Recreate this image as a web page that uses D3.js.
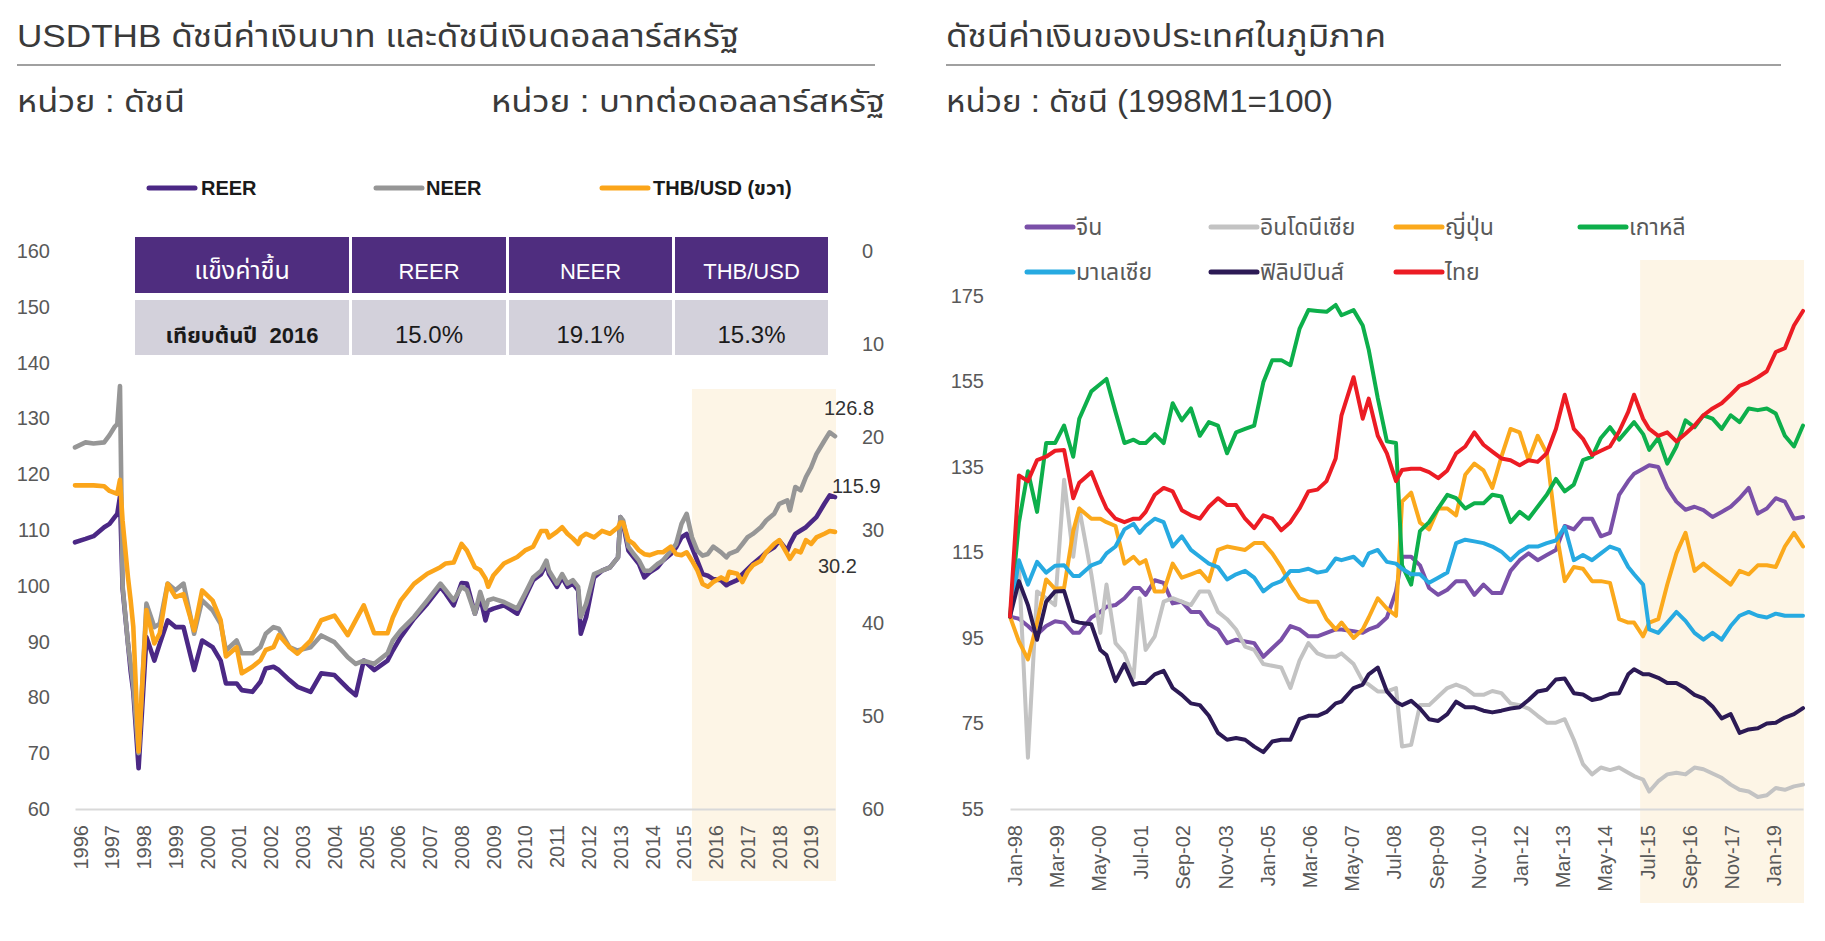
<!DOCTYPE html>
<html><head><meta charset="utf-8">
<script src="https://cdn.jsdelivr.net/npm/d3@7"></script>
<style>
html,body{margin:0;padding:0;background:#fff;}
svg{display:block;font-family:"Liberation Sans","Noto Sans Thai","Noto Sans Thai UI","Noto Sans",Arial,sans-serif;}
</style></head><body>
<svg id="chart" width="1825" height="941"></svg>
<script>
// ---------------- LEFT CHART DATA ----------------
const leftMonths = ["1996-01","1996-05","1996-08","1996-12","1997-02","1997-04","1997-05","1997-06","1997-07","1997-09",
"1997-10","1997-11","1998-01","1998-04","1998-07","1998-09","1998-12","1999-03","1999-06","1999-10",
"2000-01","2000-05","2000-08","2000-10","2001-02","2001-04","2001-08","2001-11","2002-01","2002-04",
"2002-06","2002-10","2003-01","2003-06","2003-10","2004-03","2004-08","2004-11","2005-02","2005-06",
"2005-11","2006-01","2006-04","2006-09","2007-02","2007-07","2007-09","2007-12","2008-03","2008-05",
"2008-08","2008-10","2008-12","2009-01","2009-03","2009-07","2009-12","2010-03","2010-06","2010-09",
"2010-11","2010-12","2011-03","2011-05","2011-07","2011-09","2011-11","2011-12","2012-02","2012-05",
"2012-08","2012-11","2013-02","2013-03","2013-04","2013-06","2013-08","2013-10","2013-12","2014-02",
"2014-05","2014-07","2014-10","2014-12","2015-02","2015-04","2015-06","2015-08","2015-10","2015-12",
"2016-02","2016-05","2016-07","2016-08","2016-11","2017-01","2017-03","2017-05","2017-08","2017-10",
"2018-01","2018-03","2018-06","2018-07","2018-09","2018-11","2019-01","2019-03","2019-05","2019-08",
"2019-10","2019-12"];
const neerValues = [124.8,125.7,125.5,125.7,127.0,128.5,129.0,135.8,100.0,89.6,
86.0,82.0,70.0,96.8,92.6,93.2,100.4,99.2,100.4,91.4,
97.4,95.6,93.2,88.4,90.2,87.9,87.9,89.0,91.4,92.6,
92.3,89.0,88.4,89.0,91.1,89.9,87.2,86.0,86.6,86.0,
87.9,90.2,92.0,94.4,97.4,100.4,99.2,97.4,99.8,99.2,
95.0,98.9,95.9,97.4,97.7,97.1,95.9,98.6,101.5,102.7,
104.5,102.7,100.4,102.1,100.4,101.0,99.8,94.4,96.8,102.1,
102.7,103.3,105.1,112.3,111.7,107.0,105.7,104.5,102.7,102.7,
103.9,104.5,106.3,107.5,111.1,112.9,108.7,106.3,105.4,105.7,
107.0,106.0,105.1,105.7,106.3,107.5,108.7,109.3,110.5,111.7,
112.9,114.7,115.3,113.5,117.7,117.1,119.5,121.2,123.6,126.0,
127.5,126.8];
const reerValues = [107.8,108.4,108.9,110.5,111.1,112.3,112.9,116.0,99.5,89.6,
84.8,81.0,67.3,90.8,86.6,89.6,93.8,92.6,92.6,84.9,
90.2,89.0,86.6,82.5,82.5,81.3,81.0,82.8,85.2,85.5,
84.9,83.1,81.9,81.0,84.3,84.0,81.6,80.4,86.6,84.9,
86.6,88.4,90.8,94.1,96.8,99.8,98.6,96.5,100.5,100.4,
95.0,98.0,93.8,95.5,95.9,96.5,95.0,98.0,101.0,102.1,
104.0,102.1,99.8,101.5,99.8,100.4,99.2,91.4,94.4,101.5,
102.7,103.3,105.1,112.3,111.1,106.3,105.1,103.9,101.5,102.4,
103.3,104.5,105.7,106.9,108.7,109.3,106.9,104.5,102.1,101.8,
101.2,101.0,100.1,100.4,101.0,102.1,103.0,103.9,105.1,106.0,
106.9,108.1,106.3,107.5,109.3,109.9,110.5,111.4,112.3,114.7,
116.2,115.9];
const thbValues = [25.2,25.2,25.2,25.3,25.8,26.0,26.1,24.6,29.0,35.1,
37.5,40.4,53.8,38.6,42.2,41.1,35.8,37.2,36.9,40.8,
36.5,37.6,39.7,43.6,42.6,45.4,44.7,44.0,42.9,42.6,
41.3,42.6,43.3,41.9,39.7,39.2,41.3,39.7,38.1,41.1,
41.1,39.4,37.6,35.8,34.7,34.0,33.6,33.5,31.5,32.2,
34.0,34.3,35.2,36.1,34.9,33.6,32.9,32.2,31.8,30.1,
30.1,30.8,30.2,29.7,30.4,30.9,31.5,30.8,30.4,30.8,
30.1,30.4,29.7,29.2,29.2,31.1,31.5,32.2,32.6,32.7,
32.4,32.4,31.8,32.6,32.7,32.4,33.3,34.3,35.8,36.1,
35.6,35.1,35.4,34.5,34.7,35.6,34.5,33.8,33.3,32.4,
31.5,31.1,32.6,33.1,32.2,32.4,31.1,31.5,30.8,30.4,
30.1,30.2];
const leftTickYears = [1996,1997,1998,1999,2000,2001,2002,2003,2004,2005,2006,2007,2008,2009,2010,2011,2012,2013,2014,2015,2016,2017,2018,2019];
const leftAxisTicks = [60,70,80,90,100,110,120,130,140,150,160];
const rightAxisTicks = [0,10,20,30,40,50,60];
const leftSeriesNames = ["REER","NEER","THB/USD (ขวา)"];
const tableHeader = ["แข็งค่าขึ้น","REER","NEER","THB/USD"];
const tableRow = ["เทียบต้นปี  2016","15.0%","19.1%","15.3%"];
const shadeStart = "2015-06";

// ---------------- RIGHT CHART DATA ----------------
const rightMonths = ["1998-01","1998-04","1998-07","1998-10","1999-01","1999-04","1999-07","1999-10","1999-12","2000-04",
"2000-07","2000-09","2000-12","2001-03","2001-06","2001-08","2001-10","2002-01","2002-04","2002-07",
"2002-10","2003-01","2003-04","2003-07","2003-10","2004-01","2004-04","2004-07","2004-10","2005-01",
"2005-04","2005-07","2005-10","2006-01","2006-04","2006-07","2006-10","2007-01","2007-03","2007-07",
"2007-10","2007-12","2008-03","2008-06","2008-09","2008-11","2009-02","2009-05","2009-08","2009-11",
"2010-02","2010-05","2010-08","2010-11","2011-02","2011-05","2011-08","2011-11","2012-02","2012-05",
"2012-08","2012-11","2013-02","2013-05","2013-08","2013-11","2014-02","2014-05","2014-08","2014-11",
"2015-02","2015-04","2015-07","2015-09","2015-12","2016-03","2016-06","2016-09","2016-12","2017-03",
"2017-06","2017-09","2017-12","2018-03","2018-06","2018-09","2018-12","2019-03","2019-06","2019-09",
"2019-12"];
const chinaValues = [100,99.5,97.8,95.8,97.8,98.9,98.6,96.2,96.2,99.8,
101.1,102.3,102.7,104.3,106.7,106.7,105.1,108.5,107.9,103.1,
103.5,101.1,101.1,98.2,97,93.8,94.6,94.2,93.8,90.6,
92.6,94.6,97.8,97,95.4,95.4,96.2,97,97,96.6,
96.2,97,97.8,99.8,105.9,114,114,112,106.7,105.1,
106.3,108.3,108.3,105.1,107.5,105.5,105.5,110.7,113.2,114.8,
113.2,114.4,115.6,121.2,120.4,122.9,122.9,118.8,119.6,128.5,
131.7,133.4,134.6,135.4,135,130.1,126.9,125,125.7,124.9,
123.3,124.5,125.7,127.7,130.1,124.1,125.3,127.7,126.9,122.9,
123.3];
const indonesiaValues = [100,112,67,105.9,104.3,102.7,132,114,125.3,109.9,
96.2,107.5,93.8,91.4,85.7,104.3,92.2,95.4,103.5,104.3,
103.5,102.7,105.9,105.9,101.1,99.4,97,93,92.2,88.9,
88.5,88.1,83.3,89.7,93.8,91.4,90.6,90.6,91.4,88.9,
84.9,84.1,82.5,82.5,83.3,69.6,70,79.3,79.3,81.3,
83.3,84.1,83.3,81.7,81.7,82.6,82.1,79.7,79.3,78.5,
76.8,75.2,75.2,76,71.2,65.5,63.1,64.7,64.1,64.7,
63.5,62.7,61.9,59.1,61.5,63.1,63.5,63.1,64.7,64.3,
63.3,62.3,60.7,59.5,59.1,57.8,58.2,59.9,59.5,60.3,
60.7];
const japanValues = [100,94.2,90,98.6,108.7,106.5,106.7,120,125.3,122.9,
122.9,122.1,121.2,112.4,114,112.4,113.2,105.9,105.9,112.4,
109.1,109.9,110.7,108.3,115.6,116.4,116,115.6,117.2,117.2,
114.8,111.6,107.5,104.3,103.5,103.5,99.4,97,98.6,95,
97,99.8,104.3,101.9,100.2,126.9,129,122,120.4,125.3,
125.3,123.7,133.2,135.8,134.2,130.1,137.4,143.9,143.1,136.6,
142.3,138.2,120.4,108.3,111.6,111.2,108.3,108.3,107.9,99.4,
98.6,98.6,95.4,98.6,99.4,107.5,114.8,119.6,110.7,112.4,
110.7,109.1,107.5,110.7,109.9,112,112,111.6,116.4,119.6,
116.4];
const koreaValues = [100,122,134,124.5,140.6,140.6,144.7,137.4,146.3,152.7,
154.4,155.6,147.9,140.6,141.4,140.6,140.6,142.7,140.6,149.9,
145.9,148.7,142.3,145.5,144.7,138.2,143.1,143.9,144.7,154.8,
160,160,158.8,167.3,171.7,171.5,171.3,172.9,170.5,171.7,
168.1,162.4,151.1,141,140.6,112,107.5,120,122.1,125.3,
128.5,127.7,125.3,126.5,126.5,128.5,128.1,122.1,124.5,122.9,
125.7,128.5,132.2,129.3,130.9,136.6,137.4,141.8,144.3,141.4,
143.9,145.5,142.7,139,141.8,135.8,139.8,145.9,144.3,147.1,
146.3,143.9,147.1,145.5,148.7,148.3,148.7,147.5,142.3,139.8,
144.7];
const malaysiaValues = [100,113.2,107.5,112.8,110.3,111.9,112,109.5,109.5,112,
112.8,114.8,116.4,120.4,121.7,119.6,121.2,122.9,122.1,116.4,
118.8,115.6,114,112.4,111.6,108.7,109.9,110.7,109.1,105.9,
107.5,108.3,110.7,110.7,111.2,110.3,110.7,113.6,113.2,114,
112,114.8,115.6,112.8,112.4,111.2,109.9,109.9,107.9,109.1,
110.3,117.2,118,117.6,117.2,116.4,115.2,113.2,115.2,116.4,
116.4,117.2,117.8,121,113.2,114.4,113.2,114.8,116.4,115.6,
111.6,109.9,107.5,97,96.2,98.6,101.1,99,96.2,94.6,
96.2,94.6,97.8,100.2,101.1,100.2,99.8,100.7,100.2,100.2,
100.2];
const philippinesValues = [100,108.3,102.7,94.6,103.5,105.9,106,99,98.6,98.2,
92.2,91,84.9,88.9,84.1,84.5,84.5,86.5,87.3,83.3,
81.7,79.7,79.3,76.8,72.8,71.2,71.6,71.2,69.6,68.3,
70.8,71.2,71.2,76,76.8,76.8,77.7,79.7,80.1,83.3,
84.1,86.5,88.1,82.5,80.1,79.3,80.3,78.5,76,75.6,
77.2,80.1,78.8,78.8,78,77.6,78,78.5,78.8,80.5,
82.5,82.9,85.3,85.5,82.1,81.8,80.5,80.9,81.9,82.1,
86.5,87.7,86.5,86.5,85.7,84.5,84.5,83.3,81.7,80.9,
79,76.2,77.2,72.8,73.6,73.9,75,75.2,76.4,77.2,
78.6];
const thailandValues = [100,133,131.7,136.6,137.4,138.8,139,127.7,131.3,133.8,
128.5,125.3,122.9,122.1,122.9,122.9,124.5,128.5,130.1,129.3,
124.9,123.7,122.9,125.7,127.7,126.1,126.1,122.9,120.7,123.7,
122.9,120.2,122.1,125.3,129.3,129.7,131.7,137,147.1,156,
146.3,151,142.3,138.2,131.7,134.3,134.6,134.6,133.8,132.4,
134.2,138.2,139.8,143.1,140.2,138.6,137,136.6,135.4,136.6,
136.2,138.2,143.9,151.9,143.9,141.6,137.8,138.8,139.8,143.3,
147.9,151.9,146.3,143.9,142.3,143.1,141,142.8,144.7,147.1,
148.7,149.9,151.9,154,154.8,156,157.4,161.9,162.8,168.1,
171.5];
const rightSeriesNames = ["จีน","อินโดนีเซีย","ญี่ปุ่น","เกาหลี","มาเลเซีย","ฟิลิปปินส์","ไทย"];
const rightTickLabels = ["Jan-98","Mar-99","May-00","Jul-01","Sep-02","Nov-03","Jan-05","Mar-06","May-07","Jul-08","Sep-09","Nov-10","Jan-12","Mar-13","May-14","Jul-15","Sep-16","Nov-17","Jan-19"];
const rightYTicks = [55,75,95,115,135,155,175];

// ---------------- DRAWING ----------------
const svg = d3.select("#chart");
svg.append("rect").attr("width",1825).attr("height",941).attr("fill","#ffffff");
const parseM = d3.timeParse("%Y-%m");
const parseTick = d3.timeParse("%b-%y");
const textCol = "#3a3a3a", axisCol = "#595959";
const thaiFont = '"Liberation Sans","Noto Sans Thai","Noto Sans Thai UI","Noto Sans",sans-serif';

// headers (text widths fitted to the reference layout)
function headText(x, y, size, str, width, anchor) {
  const t = svg.append("text").attr("x", x).attr("y", y).attr("font-size", size).attr("fill", textCol)
    .attr("text-anchor", anchor || "start").text(str);
  if (width) t.attr("textLength", width).attr("lengthAdjust", "spacingAndGlyphs");
  return t;
}
headText(17, 47, 32, "USDTHB ดัชนีค่าเงินบาท และดัชนีเงินดอลลาร์สหรัฐ", 722);
svg.append("line").attr("x1",17).attr("x2",875).attr("y1",65).attr("y2",65).attr("stroke","#808080").attr("stroke-width",1.5);
headText(17, 112, 31, "หน่วย : ดัชนี", 168);
headText(885, 112, 31, "หน่วย : บาทต่อดอลลาร์สหรัฐ", 394, "end");

headText(946, 47, 32, "ดัชนีค่าเงินของประเทศในภูมิภาค", 440);
svg.append("line").attr("x1",946).attr("x2",1781).attr("y1",65).attr("y2",65).attr("stroke","#808080").attr("stroke-width",1.5);
headText(946, 112, 31, "หน่วย : ดัชนี (1998M1=100)", 387);

// ===== LEFT CHART =====
const leftDates = leftMonths.map(parseM);
const xL = d3.scaleTime().domain([leftDates[0], leftDates[leftDates.length-1]]).range([75, 835]);
const yL = d3.scaleLinear().domain([60,160]).range([809,251]);
const yRt = d3.scaleLinear().domain([0,60]).range([251,809]);

const sL = xL(parseM(shadeStart));
svg.append("rect").attr("x", sL).attr("y", 389).attr("width", xL.range()[1] - sL + 1).attr("height", 881-389).attr("fill", "#FDF5E6");

const gxL = svg.append("g").attr("transform","translate(0,809)")
  .call(d3.axisBottom(xL).tickValues(leftTickYears.map(y => new Date(y,0,1))).tickFormat(d3.timeFormat("%Y")).tickSize(0));
gxL.select(".domain").attr("stroke","#D9D9D9").attr("stroke-width",2);
gxL.selectAll("text").attr("transform","rotate(-90)").attr("text-anchor","end")
  .attr("x",-16).attr("y",5).attr("dy","0.35em").attr("font-size",20).attr("fill",axisCol).attr("font-family",thaiFont);

const gyL = svg.append("g").attr("transform","translate(50,0)")
  .call(d3.axisLeft(yL).tickValues(leftAxisTicks).tickSize(0).tickPadding(0));
gyL.select(".domain").remove();
gyL.selectAll("text").attr("font-size",20).attr("fill",axisCol).attr("font-family",thaiFont);

const gyR = svg.append("g").attr("transform","translate(862,0)")
  .call(d3.axisRight(yRt).tickValues(rightAxisTicks).tickSize(0).tickPadding(0));
gyR.select(".domain").remove();
gyR.selectAll("text").attr("font-size",20).attr("fill",axisCol).attr("font-family",thaiFont);

const leftColors = ["#4B2885","#969696","#FBA51A"];
const reerData = leftDates.map((d,i)=>({d, v: reerValues[i]}));
const neerData = leftDates.map((d,i)=>({d, v: neerValues[i]}));
const thbData = leftDates.map((d,i)=>({d, v: thbValues[i]}));
const lineL = d3.line().x(p=>xL(p.d)).y(p=>yL(p.v));
const lineLR = d3.line().x(p=>xL(p.d)).y(p=>yRt(p.v));
[[reerData,lineL,leftColors[0]],[neerData,lineL,leftColors[1]],[thbData,lineLR,leftColors[2]]].forEach(([data,gen,col])=>{
  svg.append("path").datum(data).attr("d",gen).attr("fill","none").attr("stroke",col)
    .attr("stroke-width",4.6).attr("stroke-linejoin","round").attr("stroke-linecap","round");
});

const fmt = d3.format(".1f");
const lastD = leftDates[leftDates.length-1];
const nl = neerValues[neerValues.length-1], rl = reerValues[reerValues.length-1], tl = thbValues[thbValues.length-1];
svg.append("text").attr("x", xL(lastD)-11).attr("y", yL(nl)-21).attr("font-size",20).attr("fill","#333").text(fmt(nl));
svg.append("text").attr("x", xL(lastD)-3).attr("y", yL(rl)-4).attr("font-size",20).attr("fill","#333").text(fmt(rl));
svg.append("text").attr("x", xL(lastD)-17).attr("y", yRt(tl)+41).attr("font-size",20).attr("fill","#333").text(fmt(tl));

const legL = [[149,201],[376,426],[602,653]];
leftSeriesNames.forEach((n,i)=>{
  svg.append("line").attr("x1",legL[i][0]).attr("x2",legL[i][0]+46).attr("y1",188).attr("y2",188)
    .attr("stroke",leftColors[i]).attr("stroke-width",5).attr("stroke-linecap","round");
  svg.append("text").attr("x",legL[i][1]).attr("y",195).attr("font-size",20).attr("font-weight","bold")
    .attr("fill","#1a1a1a").text(n);
});

const colX = [[135,349],[352,506],[509,672],[675,828]];
tableHeader.forEach((t,i)=>{
  svg.append("rect").attr("x",colX[i][0]).attr("y",237).attr("width",colX[i][1]-colX[i][0]).attr("height",56).attr("fill","#4F2D7F");
  svg.append("text").attr("x",(colX[i][0]+colX[i][1])/2).attr("y",279).attr("text-anchor","middle")
    .attr("font-size", i===0 ? 25 : 22).attr("fill","#ffffff").text(t);
});
tableRow.forEach((t,i)=>{
  svg.append("rect").attr("x",colX[i][0]).attr("y",300).attr("width",colX[i][1]-colX[i][0]).attr("height",55).attr("fill","#D3D1DB");
  svg.append("text").attr("x",(colX[i][0]+colX[i][1])/2).attr("y",343).attr("text-anchor","middle")
    .attr("font-size", i===0 ? 22 : 24).attr("fill","#1a1a1a").attr("font-weight", i===0 ? "bold" : "normal")
    .style("white-space","pre").text(t);
});

// ===== RIGHT CHART =====
const rightDates = rightMonths.map(parseM);
const xR = d3.scaleTime().domain([rightDates[0], rightDates[rightDates.length-1]]).range([1010, 1803]);
const yR = d3.scaleLinear().domain([55,175]).range([809,296]);

const sR = xR(parseM(shadeStart));
svg.append("rect").attr("x", sR).attr("y", 260).attr("width", xR.range()[1] - sR + 1).attr("height", 903-260).attr("fill", "#FDF5E6");

const gxR = svg.append("g").attr("transform","translate(0,809)")
  .call(d3.axisBottom(xR).tickValues(rightTickLabels.map(parseTick)).tickFormat(d3.timeFormat("%b-%y")).tickSize(0));
gxR.select(".domain").attr("stroke","#D9D9D9").attr("stroke-width",2);
gxR.selectAll("text").attr("transform","rotate(-90)").attr("text-anchor","end")
  .attr("x",-16).attr("y",4).attr("dy","0.35em").attr("font-size",20).attr("fill",axisCol).attr("font-family",thaiFont);

const gyR2 = svg.append("g").attr("transform","translate(984,0)")
  .call(d3.axisLeft(yR).tickValues(rightYTicks).tickSize(0).tickPadding(0));
gyR2.select(".domain").remove();
gyR2.selectAll("text").attr("font-size",20).attr("fill",axisCol).attr("font-family",thaiFont);

const rightSeries = [chinaValues, indonesiaValues, japanValues, koreaValues, malaysiaValues, philippinesValues, thailandValues];
const rightColors = ["#7A50A8","#C3C3C3","#FBA91C","#0DAF4B","#27AAE1","#2C1A55","#EC1C24"];
const lineR = d3.line().x(p=>xR(p.d)).y(p=>yR(p.v));
rightSeries.forEach((vals,k)=>{
  const data = rightDates.map((d,i)=>({d, v: vals[i]}));
  svg.append("path").datum(data).attr("d",lineR).attr("fill","none").attr("stroke",rightColors[k])
    .attr("stroke-width",4).attr("stroke-linejoin","round").attr("stroke-linecap","round");
});

const legR = [[1027,227],[1211,227],[1396,227],[1580,227],[1027,272],[1211,272],[1396,272]];
rightSeriesNames.forEach((n,i)=>{
  const [lx,ly] = legR[i];
  svg.append("line").attr("x1",lx).attr("x2",lx+46).attr("y1",ly).attr("y2",ly)
    .attr("stroke",rightColors[i]).attr("stroke-width",5).attr("stroke-linecap","round");
  svg.append("text").attr("x",lx+49).attr("y",ly+8).attr("font-size",23).attr("fill",axisCol).text(n);
});
</script>
</body></html>
